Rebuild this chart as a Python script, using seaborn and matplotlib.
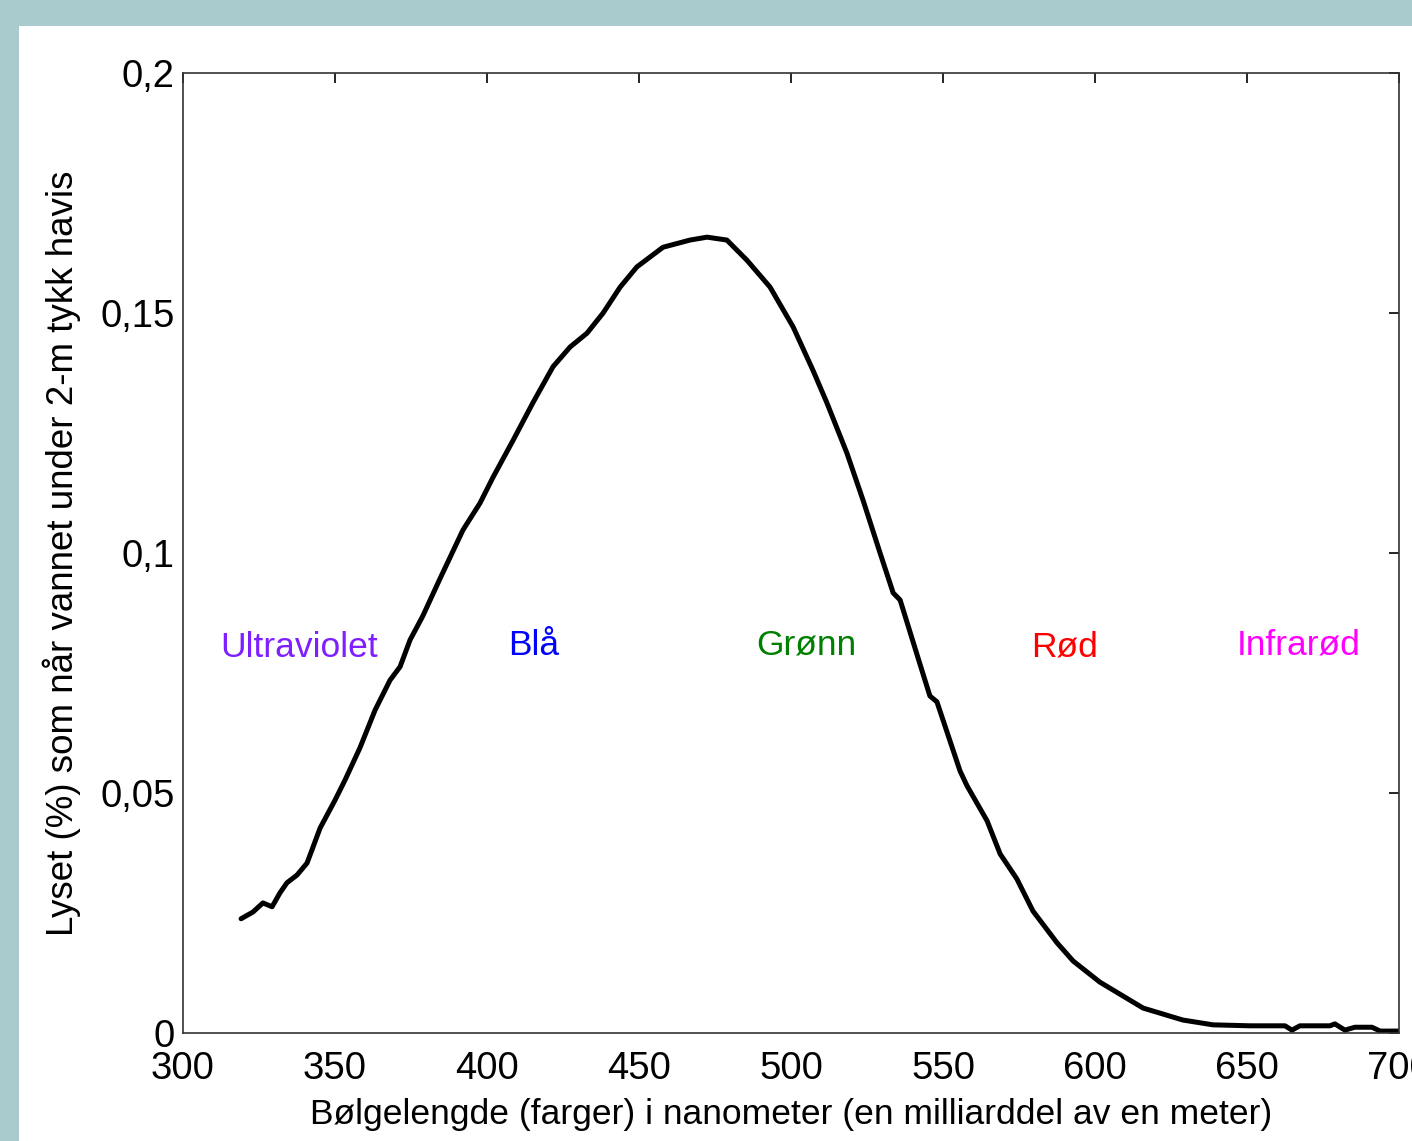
import numpy as np
import pandas as pd
import matplotlib
matplotlib.use("Agg")
import matplotlib.pyplot as plt
import seaborn as sns
from matplotlib.patches import Rectangle

# Transmitted light under 2 m sea ice
wavelength = [319.1, 323.0, 326.3, 329.3, 331.9, 334.2, 337.5, 340.8, 342.4, 345.1,
              350.0, 353.3, 358.2, 363.2, 368.1, 371.4, 374.7, 378.9, 384.5, 392.1,
              397.7, 402.0, 408.6, 415.1, 421.7, 427.3, 432.9, 438.2, 443.8, 449.3,
              457.9, 466.8, 472.4, 478.9, 485.5, 493.1, 500.7, 507.2, 511.8, 518.4,
              523.7, 529.3, 533.6, 535.9, 542.4, 545.7, 548.0, 555.6, 557.9, 564.5,
              568.8, 574.3, 579.6, 587.5, 592.8, 601.6, 615.8, 628.9, 638.8, 651.0,
              662.5, 664.8, 667.4, 677.3, 678.9, 682.2, 685.5, 691.1, 693.8, 699.7]
light = [0.0238, 0.0252, 0.0271, 0.0263, 0.0292, 0.0313, 0.0329, 0.0354, 0.0381, 0.0427,
         0.0485, 0.0527, 0.0594, 0.0673, 0.0735, 0.0763, 0.0819, 0.0869, 0.0946, 0.1048,
         0.1104, 0.1158, 0.1235, 0.1313, 0.1388, 0.1429, 0.1458, 0.1500, 0.1554, 0.1596,
         0.1637, 0.1652, 0.1658, 0.1652, 0.1610, 0.1554, 0.1471, 0.1381, 0.1313, 0.1208,
         0.1110, 0.1000, 0.0917, 0.0902, 0.0769, 0.0702, 0.0690, 0.0546, 0.0515, 0.0442,
         0.0373, 0.0321, 0.0254, 0.0188, 0.0150, 0.0106, 0.0052, 0.0027, 0.0017, 0.0015,
         0.0015, 0.0006, 0.0015, 0.0015, 0.0019, 0.0006, 0.0012, 0.0012, 0.0004, 0.0004]

# colour band labels
band_names = ["Ultraviolet", "Blå", "Grønn", "Rød", "Infrarød"]
band_x = [338.2, 415.5, 505.0, 590.1, 667.1]
band_y = [0.0804, 0.0808, 0.0808, 0.0804, 0.0808]
band_colors = ["#7f1fff", "#0000ff", "#008000", "#ff0000", "#ff00ff"]

x_ticks = [300, 350, 400, 450, 500, 550, 600, 650, 700]
y_ticks = [0, 0.05, 0.1, 0.15, 0.2]
y_tick_labels = ["0", "0,05", "0,1", "0,15", "0,2"]

sns.set_style("white")
plt.rcParams['font.family'] = ['Liberation Sans', 'DejaVu Sans']

df = pd.DataFrame({"wavelength": wavelength, "light": light})

fig = plt.figure(figsize=(14.12, 11.41), dpi=100, facecolor="#aacbce")
# white slide panel behind the axes
fig.patches.append(Rectangle((19 / 1412, 0), 1, 1 - 26 / 1141, transform=fig.transFigure,
                             facecolor="white", edgecolor="none", zorder=-10))
ax = fig.add_axes([183 / 1412, 1 - 1033 / 1141, (1399 - 183) / 1412, (1033 - 73) / 1141])
ax.set_zorder(5)
ax.set_facecolor("white")

sns.lineplot(data=df, x="wavelength", y="light", color="black", linewidth=3.6, ax=ax)

for name, bx, by, c in zip(band_names, band_x, band_y, band_colors):
    ax.text(bx, by, name, color=c, fontsize=25.5, ha="center", va="center")

ax.set_xlim(300, 700)
ax.set_ylim(0, 0.2)
ax.set_xticks(x_ticks)
ax.set_yticks(y_ticks)
ax.set_yticklabels(y_tick_labels)
ax.tick_params(direction="in", length=7, width=1.2, top=True, right=True,
               labelsize=27.5, colors="black")
ax.tick_params(axis="x", pad=13)
ax.tick_params(axis="y", pad=6)
for sp in ax.spines.values():
    sp.set_color("#333333")
    sp.set_linewidth(1.2)
    sp.set_visible(True)

ax.set_xlabel("Bølgelengde (farger) i nanometer (en milliarddel av en meter)",
              fontsize=25.5, labelpad=8, color="black")
ax.set_ylabel("Lyset (%) som når vannet under 2-m tykk havis",
              fontsize=26.5, labelpad=14, color="black")

fig.savefig("out.png", dpi=100, facecolor=fig.get_facecolor())
